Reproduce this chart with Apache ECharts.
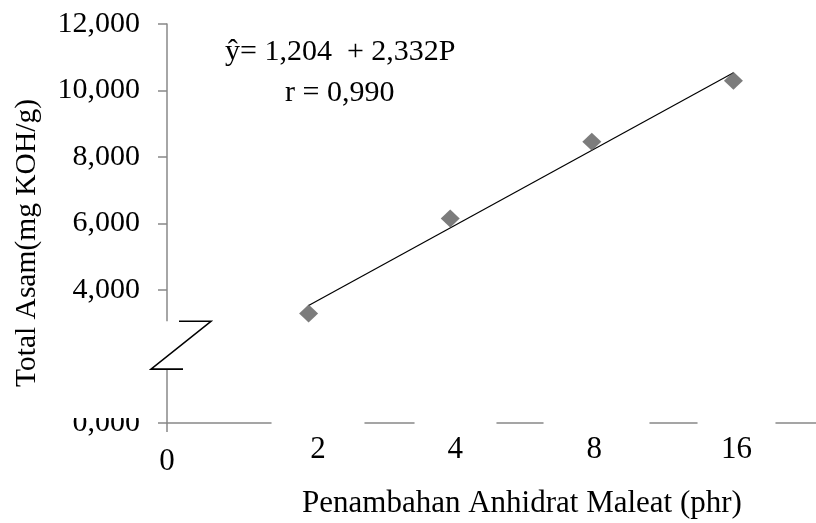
<!DOCTYPE html>
<html><head><meta charset="utf-8">
<script src="https://cdn.jsdelivr.net/npm/echarts@6/dist/echarts.min.js"></script>
<style>html,body{margin:0;padding:0;background:#fff}#c{width:816px;height:523px}</style>
</head><body><div id="c"></div>
<script>
// ---- data ----
const categories = ['0', '2', '4', '8', '16'];
const values = [null, 3.29, 6.15, 8.46, 10.29];
const trendIndices = [1, 4];
const trendValues = [3.536, 10.532];
const yTickValues = [0, 4, 6, 8, 10, 12];
const xTickValues = [0];
const xLabelValues = [0, 1, 2, 3, 4];
const breakValues = [3.06, 1.62];
const equationText = 'ŷ= 1,204  + 2,332P';
const rText = 'r = 0,990';
const xTitle = 'Penambahan Anhidrat Maleat (phr)';
const yTitle = 'Total Asam(mg KOH/g)';

// ---- styles ----
const FONT = 'Liberation Serif';
const FS = 30;
const FSX = 31;
const AXIS_COLOR = '#888888';
const labelPad = [[24, 0, 0, 0], [0, 0, 0, 19], [0, 0, 0, 10], [0, 0, 0, 5], [0, 0, 0, 6]];
const rich = {};
labelPad.forEach((p, i) => {
  rich['c' + i] = { fontFamily: FONT, fontSize: FSX, lineHeight: FSX, color: '#000', padding: p };
});

const scatterData = values.map((v, i) => v == null ? null : [i, v]).filter(Boolean);
const trendData = trendIndices.map((x, i) => [x, trendValues[i]]);

const chart = echarts.init(document.getElementById('c'), null, { renderer: 'canvas' });
chart.setOption({
  backgroundColor: '#ffffff',
  animation: false,
  grid: { left: 167, right: 0, top: 24, bottom: 100, outerBoundsMode: 'none', containLabel: false },
  xAxis: {
    type: 'value', min: 0, max: 4.583, interval: 1,
    splitLine: { show: false },
    axisLine: { show: true, onZero: false, lineStyle: { color: AXIS_COLOR, width: 1.5, type: [104, 94, 49, 83, 46, 107, 47, 79, 300] } },
    axisTick: { show: true, length: 9, customValues: xTickValues, lineStyle: { color: AXIS_COLOR, width: 1.5 } },
    axisLabel: {
      show: true, margin: 11, customValues: xLabelValues, verticalAlign: 'top',
      fontFamily: FONT, fontSize: FSX, color: '#000',
      formatter: function (val) {
        const i = Math.round(val);
        if (Math.abs(val - i) > 1e-6 || i < 0 || i >= categories.length) return '';
        return '{c' + i + '|' + categories[i] + '}';
      },
      rich: rich
    }
  },
  yAxis: {
    type: 'value', min: 0, max: 12, interval: 2,
    splitLine: { show: false },
    axisLine: { show: true, onZero: false, lineStyle: { color: AXIS_COLOR, width: 1.5 } },
    axisTick: { show: true, length: 9, customValues: yTickValues, lineStyle: { color: AXIS_COLOR, width: 1.5 } },
    axisLabel: {
      show: true, margin: 27, customValues: yTickValues,
      fontFamily: FONT, fontSize: FS, color: '#000',
      formatter: function (v) { return v.toFixed(3).replace('.', ','); }
    }
  },
  series: [
    {
      type: 'line', data: trendData, symbol: 'none', z: 3,
      lineStyle: { color: '#000', width: 1.2 }, silent: true
    },
    {
      type: 'scatter', data: scatterData, symbol: 'diamond', symbolSize: [19, 18], z: 4,
      itemStyle: { color: '#5b5b5b' }
    }
  ]
});

// decorations positioned through the axes
const ax = chart.convertToPixel({ xAxisIndex: 0 }, 0);
const yHi = chart.convertToPixel({ yAxisIndex: 0 }, breakValues[0]);
const yLo = chart.convertToPixel({ yAxisIndex: 0 }, breakValues[1]);
const y0 = chart.convertToPixel({ yAxisIndex: 0 }, 0);

chart.setOption({
  graphic: [
    { type: 'rect', z: 100, shape: { x: ax - 4, y: yHi, width: 8, height: yLo - yHi }, style: { fill: '#fff' } },
    { type: 'rect', z: 100, shape: { x: 45, y: y0 - 32, width: ax - 52, height: 27 }, style: { fill: '#fff' } },
    { type: 'polyline', z: 101, shape: { points: [[ax + 12, yHi], [ax + 44, yHi], [ax - 16, yLo], [ax + 16, yLo]] },
      style: { stroke: '#000', lineWidth: 1.6, fill: null } },
    { type: 'text', z: 102, x: 225, y: 52, style: { text: equationText, fontFamily: FONT, fontSize: FS, fill: '#000', align: 'left', verticalAlign: 'middle' } },
    { type: 'text', z: 102, x: 285, y: 93, style: { text: rText, fontFamily: FONT, fontSize: FS, fill: '#000', align: 'left', verticalAlign: 'middle' } },
    { type: 'text', z: 102, x: 522, y: 504, style: { text: xTitle, fontFamily: FONT, fontSize: FSX, fill: '#000', align: 'center', verticalAlign: 'middle' } },
    { type: 'text', z: 102, x: 27, y: 243, rotation: Math.PI / 2, style: { text: yTitle, fontFamily: FONT, fontSize: 29.5, fill: '#000', align: 'center', verticalAlign: 'middle' } }
  ]
});
</script>
</body></html>
